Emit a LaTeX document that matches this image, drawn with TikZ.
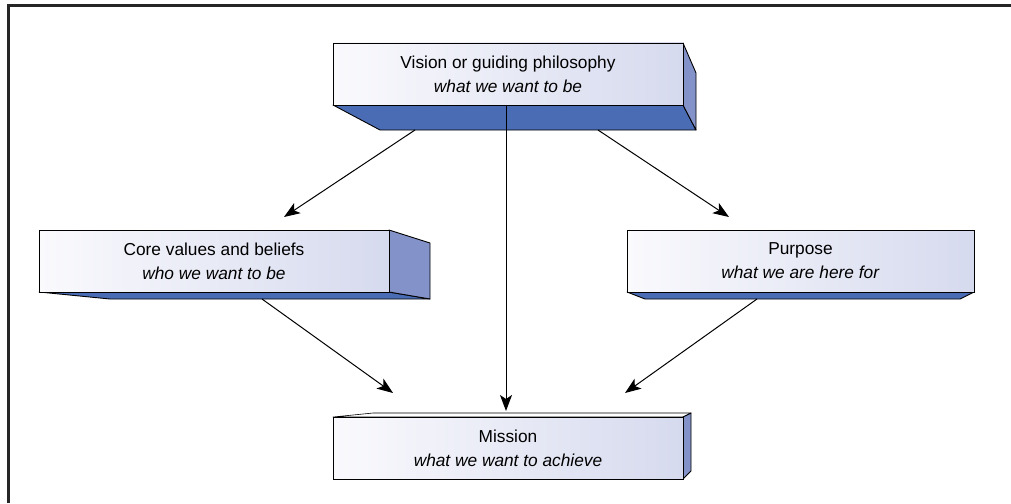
\documentclass[tikz,border=0pt]{standalone}
\usepackage{fontspec}
\setmainfont{Liberation Sans}
\usetikzlibrary{arrows.meta}
\definecolor{darkface}{HTML}{4A6CB4}
\definecolor{sideface}{HTML}{8392C9}
\definecolor{frontR}{HTML}{D6DAEE}
\definecolor{frontL}{HTML}{FAFAFD}
\tikzset{
  front/.style={draw=black, line width=0.9pt, left color=frontL, right color=frontR,
    minimum width=350pt, minimum height=62pt, inner sep=0pt, align=center,
    font=\fontsize{17.3}{24}\selectfont},
  bface/.style={fill=darkface, draw=black, line width=0.9pt, line join=round},
  sface/.style={fill=sideface, draw=black, line width=0.9pt, line join=round},
  tface/.style={fill=white, draw=black, line width=0.6pt, line join=round},
  conn/.style={line width=1pt, -{Stealth[length=16pt, width=12pt, inset=4pt]}},
  frameline/.style={line width=3pt, draw=black!85}
}
\begin{document}
\begin{tikzpicture}[x=1pt, y=-1pt]
\useasboundingbox (0,0) rectangle (1011,503);
\draw[frameline] (8.5,503) -- (8.5,5.5) -- (1011,5.5);

% Vision box
\path[bface] (333,105) -- (683,105) -- (696,130) -- (380,130) -- cycle;
\path[sface] (683,43) -- (696,73) -- (696,130) -- (683,105) -- cycle;
\node[front] (vision) at (508,74) {Vision or guiding philosophy\\\textit{what we want to be}};

% Core values box
\path[bface] (39,292) -- (389,292) -- (430,299) -- (110,299) -- cycle;
\path[sface] (389,230) -- (430,243) -- (430,299) -- (389,292) -- cycle;
\node[front] (core) at (214,261) {Core values and beliefs\\\textit{who we want to be}};

% Purpose box
\path[bface] (627,292) -- (974,292) -- (960,299) -- (645,299) -- cycle;
\node[front, minimum width=347pt] (purpose) at (800.5,261) {Purpose\\\textit{what we are here for}};

% Mission box
\path[tface] (333,417) -- (373,413) -- (691,413) -- (683,417) -- cycle;
\path[sface] (683,417) -- (691,413) -- (691,471) -- (683,479) -- cycle;
\node[front] (mission) at (508,448) {Mission\\\textit{what we want to achieve}};

% connector end points
\coordinate (v1) at (415,130);
\coordinate (v2) at (598,130);
\coordinate (vm) at (506,105);
\coordinate (c1) at (262,299);
\coordinate (p1) at (757,299);
\coordinate (coreIn) at (284,217);
\coordinate (purpIn) at (729,217);
\coordinate (mL) at (393,393);
\coordinate (mR) at (625,393);
\coordinate (mTop) at (506,411);

\draw[conn] (v1) -- (coreIn);
\draw[conn] (v2) -- (purpIn);
\draw[conn] (vm) -- (mTop);
\draw[conn] (c1) -- (mL);
\draw[conn] (p1) -- (mR);
\end{tikzpicture}
\end{document}
